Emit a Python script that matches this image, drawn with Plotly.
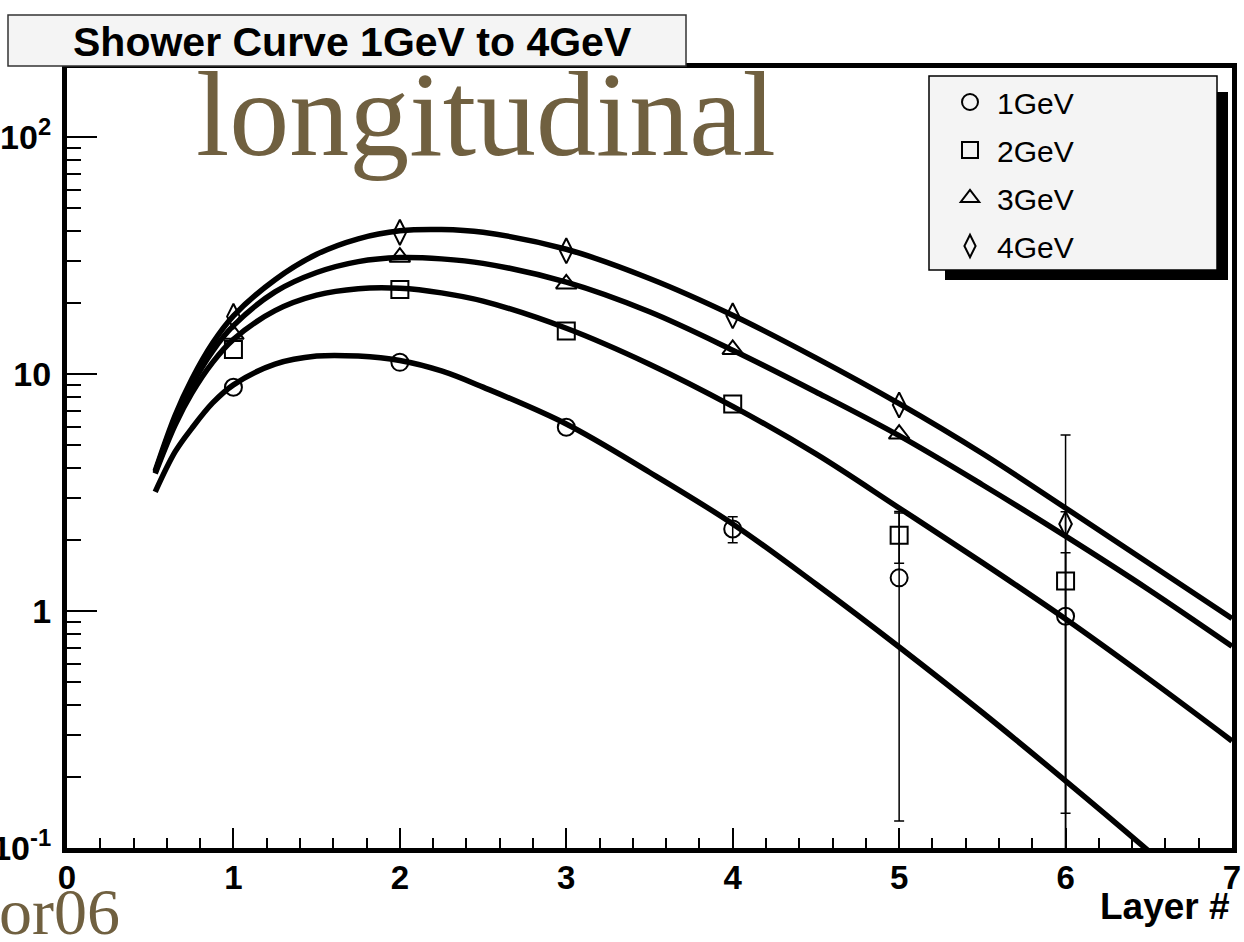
import plotly.graph_objects as go

# ---------------- data ----------------
layers = [1, 2, 3, 4, 5, 6]

# measured shower content per layer
e1_vals = [8.79, 11.2, 5.96, 2.22, 1.38, 0.95]
e2_vals = [12.7, 22.7, 15.2, 7.47, 2.09, 1.34]
e3_layers = [1, 2, 3, 4, 5]
e3_vals = [14.7, 31.1, 24.0, 12.7, 5.58]
e4_vals = [17.5, 39.6, 33.1, 17.6, 7.4, 2.33]

# points that carry a visible error bar
e1_err_layers = [4, 5, 6]
e1_err_vals = [2.22, 1.38, 0.95]
e1_err = [0.28, 1.25, 0.81]
e2_err_layers = [5, 6]
e2_err_vals = [2.09, 1.34]
e2_err = [0.50, 1.28]
e4_err_layers = [6]
e4_err_vals = [2.33]
e4_err = [3.2]

# fitted longitudinal profiles
fit_x = [0.53, 0.65, 0.75, 0.875, 1.0, 1.25, 1.5, 1.75, 2.0, 2.25, 2.5,
         3.0, 3.5, 4.0, 4.5, 5.0, 5.5, 6.0, 6.5, 7.0]
fit1 = [3.18, 4.7, 5.9, 7.55, 9.0, 11.0, 11.9, 11.9, 11.4, 10.3, 8.8,
        6.15, 3.85, 2.33, 1.30, 0.705, 0.373, 0.192, 0.097, 0.048]
fit2 = [3.8, 6.1, 8.3, 11.2, 14.0, 18.5, 21.5, 22.9, 23.0, 22.0, 20.3,
        15.6, 11.0, 7.3, 4.6, 2.72, 1.6, 0.925, 0.517, 0.283]
fit3 = [3.85, 6.5, 9.0, 12.5, 16.0, 22.2, 26.8, 29.8, 31.0, 30.6, 29.3,
        24.4, 18.3, 12.6, 8.4, 5.49, 3.41, 2.07, 1.23, 0.71]
fit4 = [3.9, 6.7, 9.5, 13.5, 17.6, 25.0, 32.0, 37.2, 40.2, 40.7, 39.6,
        33.6, 25.3, 17.7, 11.7, 7.5, 4.62, 2.72, 1.59, 0.93]

series_names = ["1GeV", "2GeV", "3GeV", "4GeV"]
x_ticks = [0, 1, 2, 3, 4, 5, 6, 7]
x_ticktext = ["0", "1", "2", "3", "4", "5", "6", "7"]
y_ticks = [0.1, 1, 10, 100]
y_ticktext = ["10<sup>-1</sup>", "1", "10", "10<sup>2</sup>"]

# ---------------- geometry helpers ----------------
W, H = 1244, 942
ML, MR, MT, MB = 67, 12, 68, 94
PW, PH = W - ML - MR, H - MT - MB


def px_x(p):
    return (p - ML) / PW


def px_y(p):
    return (H - MB - p) / PH


SANS = "Liberation Sans, Arial, sans-serif"
SERIF = "Liberation Serif, Times New Roman, serif"
OLIVE = "#706040"

fig = go.Figure()

# fit curves
for ys in (fit1, fit2, fit3, fit4):
    fig.add_trace(go.Scatter(
        x=fit_x, y=ys, mode="lines", line=dict(color="black", width=5.5, shape="spline"),
        showlegend=False, hoverinfo="skip"))

# error bars
for ex, ey, ee in ((e1_err_layers, e1_err_vals, e1_err),
                   (e2_err_layers, e2_err_vals, e2_err),
                   (e4_err_layers, e4_err_vals, e4_err)):
    fig.add_trace(go.Scatter(
        x=ex, y=ey, mode="markers", marker=dict(size=2, opacity=0),
        error_y=dict(type="data", array=ee, visible=True, color="black",
                     thickness=1.5, width=5),
        showlegend=False, hoverinfo="skip"))

# data points
symbols = ["circle-open", "square-open", "triangle-up-open", "diamond-tall-open"]
sizes = [17, 17, 18, 18]
for i, (xs, ys) in enumerate(((layers, e1_vals), (layers, e2_vals),
                               (e3_layers, e3_vals), (layers, e4_vals))):
    fig.add_trace(go.Scatter(
        x=xs, y=ys, mode="markers", name=series_names[i], legendgroup=series_names[i],
        marker=dict(symbol=symbols[i], size=sizes[i], color="black",
                    line=dict(color="black", width=2))))

shapes = [
    # legend shadow and box
    dict(type="rect", xref="paper", yref="paper", layer="above",
         x0=px_x(945), x1=px_x(1228), y0=px_y(280), y1=px_y(92),
         fillcolor="black", line=dict(width=0)),
    dict(type="rect", xref="paper", yref="paper", layer="above",
         x0=px_x(929), x1=px_x(1217), y0=px_y(270), y1=px_y(76),
         fillcolor="#f4f4f4", line=dict(color="black", width=1.5)),
    # title box
    dict(type="rect", xref="paper", yref="paper", layer="above",
         x0=px_x(8), x1=px_x(686), y0=px_y(66), y1=px_y(15),
         fillcolor="#f4f4f4", line=dict(color="#333333", width=1.5)),
]

annotations = [
    dict(text="Shower Curve 1GeV to 4GeV", xref="paper", yref="paper",
         x=px_x(352), y=px_y(42), xanchor="center", yanchor="middle", showarrow=False,
         font=dict(family=SANS, size=41, color="black", weight="bold")),
    dict(text="longitudinal", xref="paper", yref="paper",
         x=px_x(194), y=px_y(114), xanchor="left", yanchor="middle", showarrow=False,
         font=dict(family=SERIF, size=120, color=OLIVE)),
    dict(text="or06", xref="paper", yref="paper",
         x=px_x(122), y=px_y(911), xanchor="right", yanchor="middle", showarrow=False,
         font=dict(family=SERIF, size=66, color=OLIVE)),
    dict(text="Layer #", xref="paper", yref="paper",
         x=px_x(1232), y=px_y(906), xanchor="right", yanchor="middle", showarrow=False,
         font=dict(family=SANS, size=37, color="black", weight="bold")),
]

fig.update_layout(
    width=W, height=H,
    margin=dict(l=ML, r=MR, t=MT, b=MB, pad=0, autoexpand=False),
    paper_bgcolor="white", plot_bgcolor="white",
    shapes=shapes, annotations=annotations,
    legend=dict(x=px_x(943), y=px_y(76), xanchor="left", yanchor="top",
                bgcolor="rgba(0,0,0,0)", borderwidth=0, tracegroupgap=6,
                itemwidth=44,
                font=dict(family=SANS, size=30, color="black")),
    xaxis=dict(range=[0, 7], tickvals=x_ticks, ticktext=x_ticktext, automargin=False,
               ticks="inside", ticklen=20, tickwidth=1.5, tickcolor="black",
               minor=dict(dtick=0.2, ticks="inside", ticklen=10, tickwidth=1.5,
                          tickcolor="black", showgrid=False),
               showgrid=False, zeroline=False, showline=True, linewidth=5,
               linecolor="black", mirror=True, ticklabelstandoff=-4,
               tickfont=dict(family=SANS, size=33, color="black", weight="bold")),
    yaxis=dict(type="log", range=[-1, -1 + PH / 237.0], tickvals=y_ticks,
               ticktext=y_ticktext, automargin=False,
               ticks="inside", ticklen=30, tickwidth=1.5, tickcolor="black",
               minor=dict(dtick="D1", ticks="inside", ticklen=14, tickwidth=1.5,
                          tickcolor="black", showgrid=False),
               showgrid=False, zeroline=False, showline=True, linewidth=5,
               linecolor="black", mirror=True, ticklabelstandoff=4,
               tickfont=dict(family=SANS, size=34, color="black", weight="bold")),
)

fig.write_html("out.html")
